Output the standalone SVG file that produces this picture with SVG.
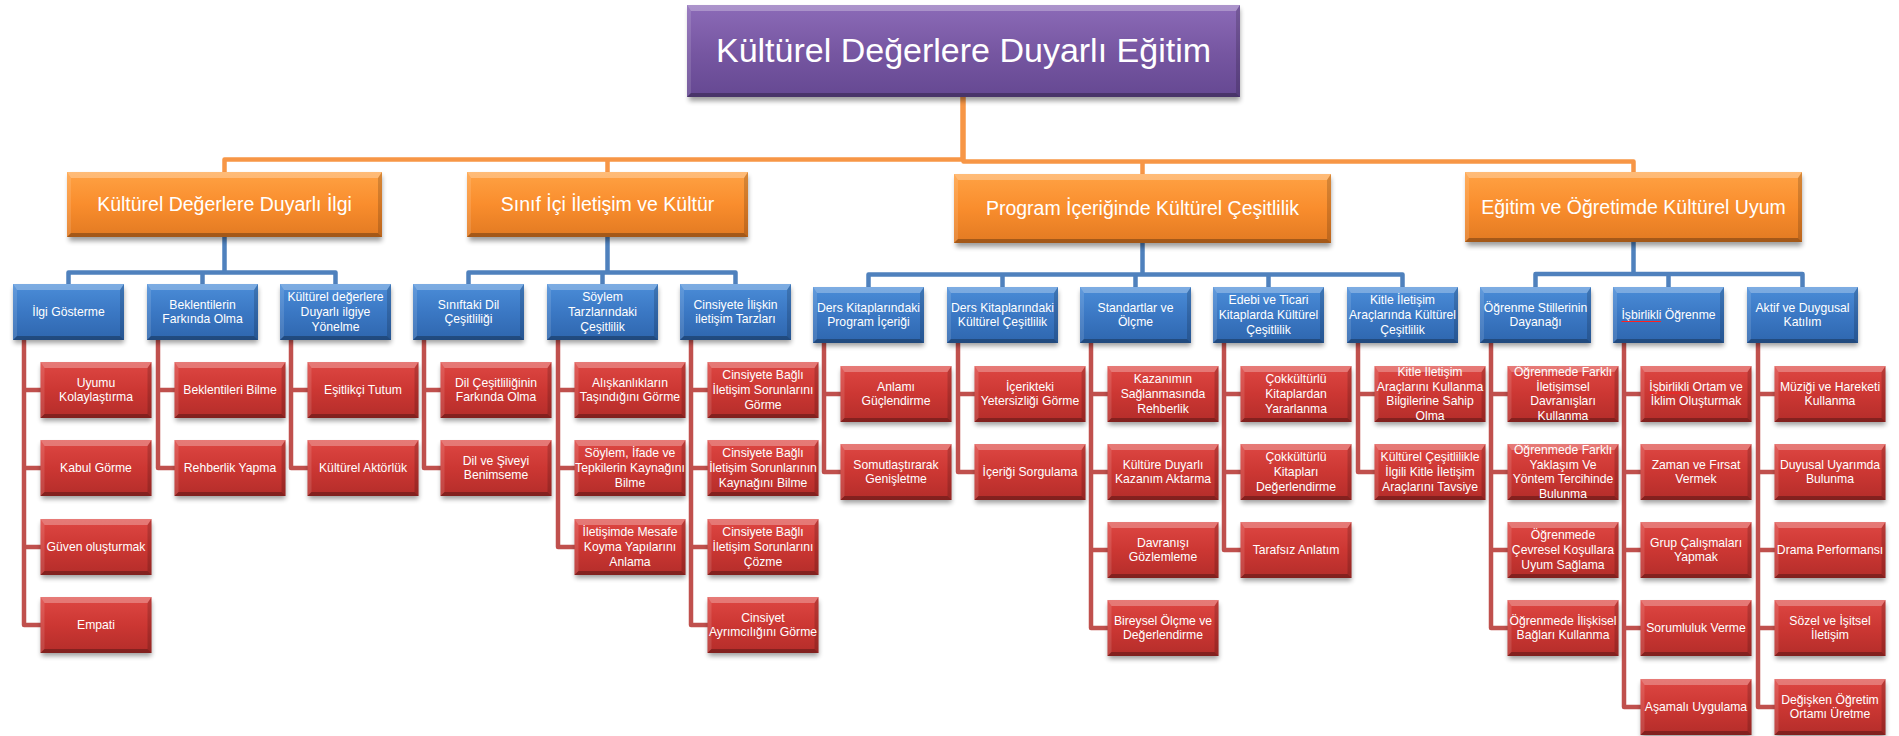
<svg xmlns="http://www.w3.org/2000/svg" xmlns:xlink="http://www.w3.org/1999/xlink" width="1899" height="736" viewBox="0 0 1899 736">
<style>
.t{font-family:"Liberation Sans",Arial,sans-serif;fill:#fff;text-anchor:middle}
.t0{font-size:34px}
.t1{font-size:19.5px}
.t2{font-size:12.2px}
.bt{fill:#fff;opacity:.28}
.bl{fill:#fff;opacity:.12}
.br{fill:#000;opacity:.16}
.bb{fill:#000;opacity:.28}
.shd{fill:#000;opacity:.38;filter:url(#sh)}
.co{stroke:#F79646;stroke-width:4.5;fill:none}
.cb{stroke:#4F81BD;stroke-width:4.5;fill:none}
.cr{stroke:#C0504D;stroke-width:4.5;fill:none}
.sp{stroke:#FF2020;stroke-width:1;fill:none}
</style>
<defs>
<filter id="sh" x="-20%" y="-40%" width="140%" height="180%"><feGaussianBlur stdDeviation="2.5"/></filter>
<linearGradient id="gP" x1="0" y1="0" x2="0" y2="1"><stop offset="0" stop-color="#8C6BB8"/><stop offset=".5" stop-color="#7757A2"/><stop offset="1" stop-color="#654892"/></linearGradient>
<linearGradient id="gO" x1="0" y1="0" x2="0" y2="1"><stop offset="0" stop-color="#FFA244"/><stop offset=".5" stop-color="#F98D2D"/><stop offset="1" stop-color="#E27A22"/></linearGradient>
<linearGradient id="gB" x1="0" y1="0" x2="0" y2="1"><stop offset="0" stop-color="#4B8DD8"/><stop offset=".5" stop-color="#3B78C4"/><stop offset="1" stop-color="#2E66AE"/></linearGradient>
<linearGradient id="gR" x1="0" y1="0" x2="0" y2="1"><stop offset="0" stop-color="#DE4743"/><stop offset=".5" stop-color="#CC3733"/><stop offset="1" stop-color="#B42D2A"/></linearGradient>
<g id="rb">
<rect class="shd" x="1" y="4" width="110" height="55"/>
<rect width="111" height="56" fill="url(#gR)"/>
<path class="bt" d="M0,0H111L107,6H4Z"/>
<path class="bl" d="M0,0L4,6V52L0,56Z"/>
<path class="br" d="M111,0V56L107,52V6Z"/>
<path class="bb" d="M0,56H111L107,52H4Z"/>
</g>
<g id="bb">
<rect class="shd" x="1" y="4" width="110" height="55"/>
<rect width="111" height="56" fill="url(#gB)"/>
<path class="bt" d="M0,0H111L107,6H4Z"/>
<path class="bl" d="M0,0L4,6V52L0,56Z"/>
<path class="br" d="M111,0V56L107,52V6Z"/>
<path class="bb" d="M0,56H111L107,52H4Z"/>
</g>
</defs>
<rect width="1899" height="736" fill="#fff"/>

<g id="connectors" stroke-linejoin="round">
<path class="co" d="M962.5,97V159.5H224.5V172M962.5,97V159.5H607.5V172"/>
<path class="co" d="M963.5,97V161.5H1142.5V174M963.5,97V161.5H1633.5V172"/>
<path class="cb" d="M224.5,237V272.5H68.5V284M224.5,237V272.5H202.5V284M224.5,237V272.5H335.5V284"/>
<path class="cb" d="M607.5,237V272.5H468.5V284M607.5,237V272.5H602.5V284M607.5,237V272.5H735.5V284"/>
<path class="cb" d="M1142.5,243V274.5H868.5V287M1142.5,243V274.5H1002.5V287M1142.5,243V274.5H1135.5V287M1142.5,243V274.5H1268.5V287M1142.5,243V274.5H1402.5V287"/>
<path class="cb" d="M1633.5,242V274H1535.5V287M1633.5,242V274H1668.5V287M1633.5,242V274H1802.5V287"/>
<path class="cr" d="M24,339V390H41M24,339V468H41M24,339V547H41M24,339V625H41"/>
<path class="cr" d="M158,339V390H175M158,339V468H175"/>
<path class="cr" d="M291,339V390H308M291,339V468H308"/>
<path class="cr" d="M424,339V390H441M424,339V468H441"/>
<path class="cr" d="M558,339V390H575M558,339V468H575M558,339V547H575"/>
<path class="cr" d="M691,339V390H708M691,339V468H708M691,339V547H708M691,339V625H708"/>
<path class="cr" d="M824,343V394H841M824,343V472H841"/>
<path class="cr" d="M958,343V394H975M958,343V472H975"/>
<path class="cr" d="M1091,343V394H1108M1091,343V472H1108M1091,343V550H1108M1091,343V628H1108"/>
<path class="cr" d="M1224,343V394H1241M1224,343V472H1241M1224,343V550H1241"/>
<path class="cr" d="M1358,343V394H1375M1358,343V472H1375"/>
<path class="cr" d="M1491,343V394H1508M1491,343V472H1508M1491,343V550H1508M1491,343V628H1508"/>
<path class="cr" d="M1624,343V394H1641M1624,343V472H1641M1624,343V550H1641M1624,343V628H1641M1624,343V707H1641"/>
<path class="cr" d="M1758,343V394H1775M1758,343V472H1775M1758,343V550H1775M1758,343V628H1775M1758,343V707H1775"/>
</g>

<g id="root">
<rect class="shd" x="689" y="9" width="551" height="92"/>
<rect x="687" y="5" width="553" height="92" fill="url(#gP)"/>
<path class="bt" d="M687,5H1240L1236,11H691Z"/>
<path class="bl" d="M687,5L691,11V93L687,97Z"/>
<path class="br" d="M1240,5V97L1236,93V11Z"/>
<path class="bb" d="M687,97H1240L1236,93H691Z"/>
<text class="t t0" x="963.5" y="62">Kültürel Değerlere Duyarlı Eğitim</text>
</g>

<g id="l1-ilgi">
<rect class="shd" x="69" y="176" width="313" height="65"/>
<rect x="67" y="172" width="315" height="65" fill="url(#gO)"/>
<path class="bt" d="M67,172H382L378,178H71Z"/>
<path class="bl" d="M67,172L71,178V233L67,237Z"/>
<path class="br" d="M382,172V237L378,233V178Z"/>
<path class="bb" d="M67,237H382L378,233H71Z"/>
<text class="t t1" x="224.5" y="210.5">Kültürel Değerlere Duyarlı İlgi</text>
</g>
<g id="l1-sinif">
<rect class="shd" x="469" y="176" width="279" height="65"/>
<rect x="467" y="172" width="281" height="65" fill="url(#gO)"/>
<path class="bt" d="M467,172H748L744,178H471Z"/>
<path class="bl" d="M467,172L471,178V233L467,237Z"/>
<path class="br" d="M748,172V237L744,233V178Z"/>
<path class="bb" d="M467,237H748L744,233H471Z"/>
<text class="t t1" x="607.5" y="210.5">Sınıf İçi İletişim ve Kültür</text>
</g>
<g id="l1-program">
<rect class="shd" x="956" y="178" width="375" height="69"/>
<rect x="954" y="174" width="377" height="69" fill="url(#gO)"/>
<path class="bt" d="M954,174H1331L1327,180H958Z"/>
<path class="bl" d="M954,174L958,180V239L954,243Z"/>
<path class="br" d="M1331,174V243L1327,239V180Z"/>
<path class="bb" d="M954,243H1331L1327,239H958Z"/>
<text class="t t1" x="1142.5" y="215">Program İçeriğinde Kültürel Çeşitlilik</text>
</g>
<g id="l1-egitim">
<rect class="shd" x="1467" y="176" width="335" height="70"/>
<rect x="1465" y="172" width="337" height="70" fill="url(#gO)"/>
<path class="bt" d="M1465,172H1802L1798,178H1469Z"/>
<path class="bl" d="M1465,172L1469,178V238L1465,242Z"/>
<path class="br" d="M1802,172V242L1798,238V178Z"/>
<path class="bb" d="M1465,242H1802L1798,238H1469Z"/>
<text class="t t1" x="1633.5" y="213.5">Eğitim ve Öğretimde Kültürel Uyum</text>
</g>

<g id="b0"><use href="#bb" x="13" y="284"/><text class="t t2" x="68.5" y="316">İlgi Gösterme</text></g>
<g id="b1"><use href="#bb" x="147" y="284"/><text class="t t2" x="202.5" y="308.7">Beklentilerin<tspan x="202.5" dy="14.6">Farkında Olma</tspan></text></g>
<g id="b2"><use href="#bb" x="280" y="284"/><text class="t t2" x="335.5" y="301.4">Kültürel değerlere<tspan x="335.5" dy="14.6">Duyarlı ilgiye</tspan><tspan x="335.5" dy="14.6">Yönelme</tspan></text></g>
<g id="b3"><use href="#bb" x="413" y="284"/><text class="t t2" x="468.5" y="308.7">Sınıftaki Dil<tspan x="468.5" dy="14.6">Çeşitliliği</tspan></text></g>
<g id="b4"><use href="#bb" x="547" y="284"/><text class="t t2" x="602.5" y="301.4">Söylem<tspan x="602.5" dy="14.6">Tarzlarındaki</tspan><tspan x="602.5" dy="14.6">Çeşitlilik</tspan></text></g>
<g id="b5"><use href="#bb" x="680" y="284"/><text class="t t2" x="735.5" y="308.7">Cinsiyete İlişkin<tspan x="735.5" dy="14.6">iletişim Tarzları</tspan></text></g>
<g id="b6"><use href="#bb" x="813" y="287"/><text class="t t2" x="868.5" y="311.7">Ders Kitaplarındaki<tspan x="868.5" dy="14.6">Program İçeriği</tspan></text></g>
<g id="b7"><use href="#bb" x="947" y="287"/><text class="t t2" x="1002.5" y="311.7">Ders Kitaplarındaki<tspan x="1002.5" dy="14.6">Kültürel Çeşitlilik</tspan></text></g>
<g id="b8"><use href="#bb" x="1080" y="287"/><text class="t t2" x="1135.5" y="311.7">Standartlar ve<tspan x="1135.5" dy="14.6">Ölçme</tspan></text></g>
<g id="b9"><use href="#bb" x="1213" y="287"/><text class="t t2" x="1268.5" y="304.4">Edebi ve Ticari<tspan x="1268.5" dy="14.6">Kitaplarda Kültürel</tspan><tspan x="1268.5" dy="14.6">Çeşitlilik</tspan></text></g>
<g id="b10"><use href="#bb" x="1347" y="287"/><text class="t t2" x="1402.5" y="304.4">Kitle İletişim<tspan x="1402.5" dy="14.6">Araçlarında Kültürel</tspan><tspan x="1402.5" dy="14.6">Çeşitlilik</tspan></text></g>
<g id="b11"><use href="#bb" x="1480" y="287"/><text class="t t2" x="1535.5" y="311.7">Öğrenme Stillerinin<tspan x="1535.5" dy="14.6">Dayanağı</tspan></text></g>
<g id="b12"><use href="#bb" x="1613" y="287"/><text class="t t2" x="1668.5" y="319">İşbirlikli Öğrenme</text><path class="sp" d="M1621.5,321.5H1661"/></g>
<g id="b13"><use href="#bb" x="1747" y="287"/><text class="t t2" x="1802.5" y="311.7">Aktif ve Duygusal<tspan x="1802.5" dy="14.6">Katılım</tspan></text></g>

<g id="r0-0"><use href="#rb" x="40.5" y="362"/><text class="t t2" x="96" y="386.7">Uyumu<tspan x="96" dy="14.6">Kolaylaştırma</tspan></text></g>
<g id="r0-1"><use href="#rb" x="40.5" y="440"/><text class="t t2" x="96" y="472">Kabul Görme</text></g>
<g id="r0-2"><use href="#rb" x="40.5" y="519"/><text class="t t2" x="96" y="551">Güven oluşturmak</text></g>
<g id="r0-3"><use href="#rb" x="40.5" y="597"/><text class="t t2" x="96" y="629">Empati</text></g>

<g id="r1-0"><use href="#rb" x="174.5" y="362"/><text class="t t2" x="230" y="394">Beklentileri Bilme</text></g>
<g id="r1-1"><use href="#rb" x="174.5" y="440"/><text class="t t2" x="230" y="472">Rehberlik Yapma</text></g>

<g id="r2-0"><use href="#rb" x="307.5" y="362"/><text class="t t2" x="363" y="394">Eşitlikçi Tutum</text></g>
<g id="r2-1"><use href="#rb" x="307.5" y="440"/><text class="t t2" x="363" y="472">Kültürel Aktörlük</text></g>

<g id="r3-0"><use href="#rb" x="440.5" y="362"/><text class="t t2" x="496" y="386.7">Dil Çeşitliliğinin<tspan x="496" dy="14.6">Farkında Olma</tspan></text></g>
<g id="r3-1"><use href="#rb" x="440.5" y="440"/><text class="t t2" x="496" y="464.7">Dil ve Şiveyi<tspan x="496" dy="14.6">Benimseme</tspan></text></g>

<g id="r4-0"><use href="#rb" x="574.5" y="362"/><text class="t t2" x="630" y="386.7">Alışkanlıkların<tspan x="630" dy="14.6">Taşındığını Görme</tspan></text></g>
<g id="r4-1"><use href="#rb" x="574.5" y="440"/><text class="t t2" x="630" y="457.4">Söylem, İfade ve<tspan x="630" dy="14.6">Tepkilerin Kaynağını</tspan><tspan x="630" dy="14.6">Bilme</tspan></text></g>
<g id="r4-2"><use href="#rb" x="574.5" y="519"/><text class="t t2" x="630" y="536.4">İletişimde Mesafe<tspan x="630" dy="14.6">Koyma Yapılarını</tspan><tspan x="630" dy="14.6">Anlama</tspan></text></g>

<g id="r5-0"><use href="#rb" x="707.5" y="362"/><text class="t t2" x="763" y="379.4">Cinsiyete Bağlı<tspan x="763" dy="14.6">İletişim Sorunlarını</tspan><tspan x="763" dy="14.6">Görme</tspan></text></g>
<g id="r5-1"><use href="#rb" x="707.5" y="440"/><text class="t t2" x="763" y="457.4">Cinsiyete Bağlı<tspan x="763" dy="14.6">İletişim Sorunlarının</tspan><tspan x="763" dy="14.6">Kaynağını Bilme</tspan></text></g>
<g id="r5-2"><use href="#rb" x="707.5" y="519"/><text class="t t2" x="763" y="536.4">Cinsiyete Bağlı<tspan x="763" dy="14.6">İletişim Sorunlarını</tspan><tspan x="763" dy="14.6">Çözme</tspan></text></g>
<g id="r5-3"><use href="#rb" x="707.5" y="597"/><text class="t t2" x="763" y="621.7">Cinsiyet<tspan x="763" dy="14.6">Ayrımcılığını Görme</tspan></text></g>

<g id="r6-0"><use href="#rb" x="840.5" y="366"/><text class="t t2" x="896" y="390.7">Anlamı<tspan x="896" dy="14.6">Güçlendirme</tspan></text></g>
<g id="r6-1"><use href="#rb" x="840.5" y="444"/><text class="t t2" x="896" y="468.7">Somutlaştırarak<tspan x="896" dy="14.6">Genişletme</tspan></text></g>

<g id="r7-0"><use href="#rb" x="974.5" y="366"/><text class="t t2" x="1030" y="390.7">İçerikteki<tspan x="1030" dy="14.6">Yetersizliği Görme</tspan></text></g>
<g id="r7-1"><use href="#rb" x="974.5" y="444"/><text class="t t2" x="1030" y="476">İçeriği Sorgulama</text></g>

<g id="r8-0"><use href="#rb" x="1107.5" y="366"/><text class="t t2" x="1163" y="383.4">Kazanımın<tspan x="1163" dy="14.6">Sağlanmasında</tspan><tspan x="1163" dy="14.6">Rehberlik</tspan></text></g>
<g id="r8-1"><use href="#rb" x="1107.5" y="444"/><text class="t t2" x="1163" y="468.7">Kültüre Duyarlı<tspan x="1163" dy="14.6">Kazanım Aktarma</tspan></text></g>
<g id="r8-2"><use href="#rb" x="1107.5" y="522"/><text class="t t2" x="1163" y="546.7">Davranışı<tspan x="1163" dy="14.6">Gözlemleme</tspan></text></g>
<g id="r8-3"><use href="#rb" x="1107.5" y="600"/><text class="t t2" x="1163" y="624.7">Bireysel Ölçme ve<tspan x="1163" dy="14.6">Değerlendirme</tspan></text></g>

<g id="r9-0"><use href="#rb" x="1240.5" y="366"/><text class="t t2" x="1296" y="383.4">Çokkültürlü<tspan x="1296" dy="14.6">Kitaplardan</tspan><tspan x="1296" dy="14.6">Yararlanma</tspan></text></g>
<g id="r9-1"><use href="#rb" x="1240.5" y="444"/><text class="t t2" x="1296" y="461.4">Çokkültürlü<tspan x="1296" dy="14.6">Kitapları</tspan><tspan x="1296" dy="14.6">Değerlendirme</tspan></text></g>
<g id="r9-2"><use href="#rb" x="1240.5" y="522"/><text class="t t2" x="1296" y="554">Tarafsız Anlatım</text></g>

<g id="r10-0"><use href="#rb" x="1374.5" y="366"/><text class="t t2" x="1430" y="376.1">Kitle İletişim<tspan x="1430" dy="14.6">Araçlarını Kullanma</tspan><tspan x="1430" dy="14.6">Bilgilerine Sahip</tspan><tspan x="1430" dy="14.6">Olma</tspan></text></g>
<g id="r10-1"><use href="#rb" x="1374.5" y="444"/><text class="t t2" x="1430" y="461.4">Kültürel Çeşitlilikle<tspan x="1430" dy="14.6">İlgili Kitle İletişim</tspan><tspan x="1430" dy="14.6">Araçlarını Tavsiye</tspan></text></g>

<g id="r11-0"><use href="#rb" x="1507.5" y="366"/><text class="t t2" x="1563" y="376.1">Öğrenmede Farklı<tspan x="1563" dy="14.6">İletişimsel</tspan><tspan x="1563" dy="14.6">Davranışları</tspan><tspan x="1563" dy="14.6">Kullanma</tspan></text></g>
<g id="r11-1"><use href="#rb" x="1507.5" y="444"/><text class="t t2" x="1563" y="454.1">Öğrenmede Farklı<tspan x="1563" dy="14.6">Yaklaşım Ve</tspan><tspan x="1563" dy="14.6">Yöntem Tercihinde</tspan><tspan x="1563" dy="14.6">Bulunma</tspan></text></g>
<g id="r11-2"><use href="#rb" x="1507.5" y="522"/><text class="t t2" x="1563" y="539.4">Öğrenmede<tspan x="1563" dy="14.6">Çevresel Koşullara</tspan><tspan x="1563" dy="14.6">Uyum Sağlama</tspan></text></g>
<g id="r11-3"><use href="#rb" x="1507.5" y="600"/><text class="t t2" x="1563" y="624.7">Öğrenmede İlişkisel<tspan x="1563" dy="14.6">Bağları Kullanma</tspan></text></g>

<g id="r12-0"><use href="#rb" x="1640.5" y="366"/><text class="t t2" x="1696" y="390.7">İşbirlikli Ortam ve<tspan x="1696" dy="14.6">İklim Oluşturmak</tspan></text><path class="sp" d="M1649.5,393H1689"/></g>
<g id="r12-1"><use href="#rb" x="1640.5" y="444"/><text class="t t2" x="1696" y="468.7">Zaman ve Fırsat<tspan x="1696" dy="14.6">Vermek</tspan></text></g>
<g id="r12-2"><use href="#rb" x="1640.5" y="522"/><text class="t t2" x="1696" y="546.7">Grup Çalışmaları<tspan x="1696" dy="14.6">Yapmak</tspan></text></g>
<g id="r12-3"><use href="#rb" x="1640.5" y="600"/><text class="t t2" x="1696" y="632">Sorumluluk Verme</text></g>
<g id="r12-4"><use href="#rb" x="1640.5" y="679"/><text class="t t2" x="1696" y="711">Aşamalı Uygulama</text></g>

<g id="r13-0"><use href="#rb" x="1774.5" y="366"/><text class="t t2" x="1830" y="390.7">Müziği ve Hareketi<tspan x="1830" dy="14.6">Kullanma</tspan></text></g>
<g id="r13-1"><use href="#rb" x="1774.5" y="444"/><text class="t t2" x="1830" y="468.7">Duyusal Uyarımda<tspan x="1830" dy="14.6">Bulunma</tspan></text></g>
<g id="r13-2"><use href="#rb" x="1774.5" y="522"/><text class="t t2" x="1830" y="554">Drama Performansı</text></g>
<g id="r13-3"><use href="#rb" x="1774.5" y="600"/><text class="t t2" x="1830" y="624.7">Sözel ve İşitsel<tspan x="1830" dy="14.6">İletişim</tspan></text></g>
<g id="r13-4"><use href="#rb" x="1774.5" y="679"/><text class="t t2" x="1830" y="703.7">Değişken Öğretim<tspan x="1830" dy="14.6">Ortamı Üretme</tspan></text></g>
</svg>
